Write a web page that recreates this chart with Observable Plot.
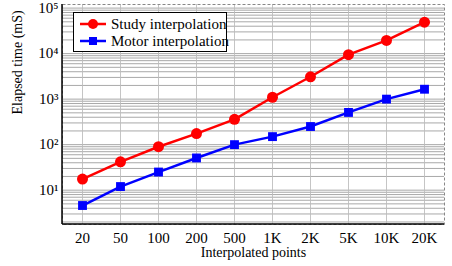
<!DOCTYPE html>
<html><head><meta charset="utf-8">
<script src="https://cdn.jsdelivr.net/npm/d3@7"></script>
<script src="https://cdn.jsdelivr.net/npm/@observablehq/plot@0.6"></script>
</head><body style="margin:0;background:#fff;font-family:'Liberation Serif'">
<div id="wrap" style="position:relative;width:452px;height:266px;"><div id="chart"></div>
<div id="legend" style="position:absolute;left:73px;top:12px;width:154px;height:40px;border:1px solid #000;background:#fff;font-size:15px;box-sizing:border-box;font-family:'Liberation Serif';white-space:nowrap;">
<div style="position:absolute;left:4px;top:3px;height:16px;display:flex;align-items:center;font-family:'Liberation Serif'"><svg width="30" height="14" style="margin-right:3px"><line x1="2" y1="7" x2="28" y2="7" stroke="#ff0000" stroke-width="2.5"/><circle cx="15" cy="7" r="5" fill="#ff0000"/></svg><span style="font-family:'Liberation Serif'">Study interpolation</span></div>
<div style="position:absolute;left:4px;top:20px;height:16px;display:flex;align-items:center;font-family:'Liberation Serif'"><svg width="30" height="14" style="margin-right:3px"><line x1="2" y1="7" x2="28" y2="7" stroke="#0000ff" stroke-width="2.5"/><rect x="11" y="3" width="8" height="8" fill="#0000ff"/></svg><span style="font-family:'Liberation Serif'">Motor interpolation</span></div>
</div></div>
<script>
const categories = ["20","50","100","200","500","1K","2K","5K","10K","20K"];
const studyValues = [17.5, 42, 90, 175, 360, 1100, 3100, 9500, 19500, 49000];
const motorValues = [4.6, 12, 25, 51, 100, 150, 250, 510, 1000, 1650];
const seriesNames = ["Study interpolation", "Motor interpolation"];
const decadeTicks = [10, 100, 1000, 10000, 100000];

const data = [];
categories.forEach((c,i)=>{
  data.push({x:c, y:studyValues[i], s:seriesNames[0]});
  data.push({x:c, y:motorValues[i], s:seriesNames[1]});
});
const minorTicks = [];
for (let e=0;e<=5;e++) for (let m=1;m<=9;m++){ const v=m*10**e; if(v>=1.76 && v<=1.2e5) minorTicks.push(v); }
const sup = {"1":"¹","2":"²","3":"³","4":"⁴","5":"⁵"};
const FONT = "Liberation Serif";

const W=452,H=266,ML=62,MR=8,MT=4,MB=42;
const plot = Plot.plot({
  width: W, height: H,
  marginLeft: ML, marginRight: MR, marginTop: MT, marginBottom: MB,
  style: {fontSize: "15px", color:"#000", background:"#fff"},
  x: {type: "point", domain: categories, padding: 0.5, label: null},
  y: {type: "log", domain: [1.76, 1.2e5], label: null},
  marks: [
    Plot.gridY(minorTicks, {stroke: "#999", strokeOpacity: 0.85, strokeWidth: 1}),
    Plot.gridX(categories, {stroke: "#bbb", strokeOpacity: 0.85}),
    Plot.axisX({tickSize: 0, tickPadding: 8, fontSize: 15, label: null}),
    Plot.axisY(decadeTicks, {tickSize: 0, tickPadding: 4, fontSize: 15, label: null,
      tickFormat: d => "10" + sup[String(Math.round(Math.log10(d)))]}),
    Plot.frame({stroke: "#888", strokeDasharray: "3,2"}),
    Plot.line(data.filter(d=>d.s===seriesNames[0]), {x:"x", y:"y", stroke:"#ff0000", strokeWidth:2.5}),
    Plot.line(data.filter(d=>d.s===seriesNames[1]), {x:"x", y:"y", stroke:"#0000ff", strokeWidth:2.5}),
    Plot.dot(data.filter(d=>d.s===seriesNames[0]), {x:"x", y:"y", fill:"#ff0000", r:5.5, symbol:"circle"}),
    Plot.dot(data.filter(d=>d.s===seriesNames[1]), {x:"x", y:"y", fill:"#0000ff", r:5, symbol:"square"}),
    Plot.text(["Interpolated points"], {frameAnchor:"bottom", dy: 32, fontSize: 14, fill:"#000"}),
    Plot.text(["Elapsed time (mS)"], {frameAnchor:"left", dx: -45, rotate: -90, fontSize: 14, fill:"#000"})
  ]
});
plot.setAttribute("font-family", FONT);
plot.style.fontFamily = "'Liberation Serif'";
const svg = d3.select(plot);
svg.selectAll("g").attr("font-family", FONT);
svg.selectAll("text").attr("font-family", FONT).style("font-family", "'Liberation Serif'");
svg.append("line").attr("x1",ML).attr("x2",ML).attr("y1",MT).attr("y2",H-MB).attr("stroke","#000").attr("stroke-width",1.5);
svg.append("line").attr("x1",ML).attr("x2",W-MR).attr("y1",H-MB).attr("y2",H-MB).attr("stroke","#000").attr("stroke-width",1.5);
document.getElementById("chart").appendChild(plot);
</script></body></html>
